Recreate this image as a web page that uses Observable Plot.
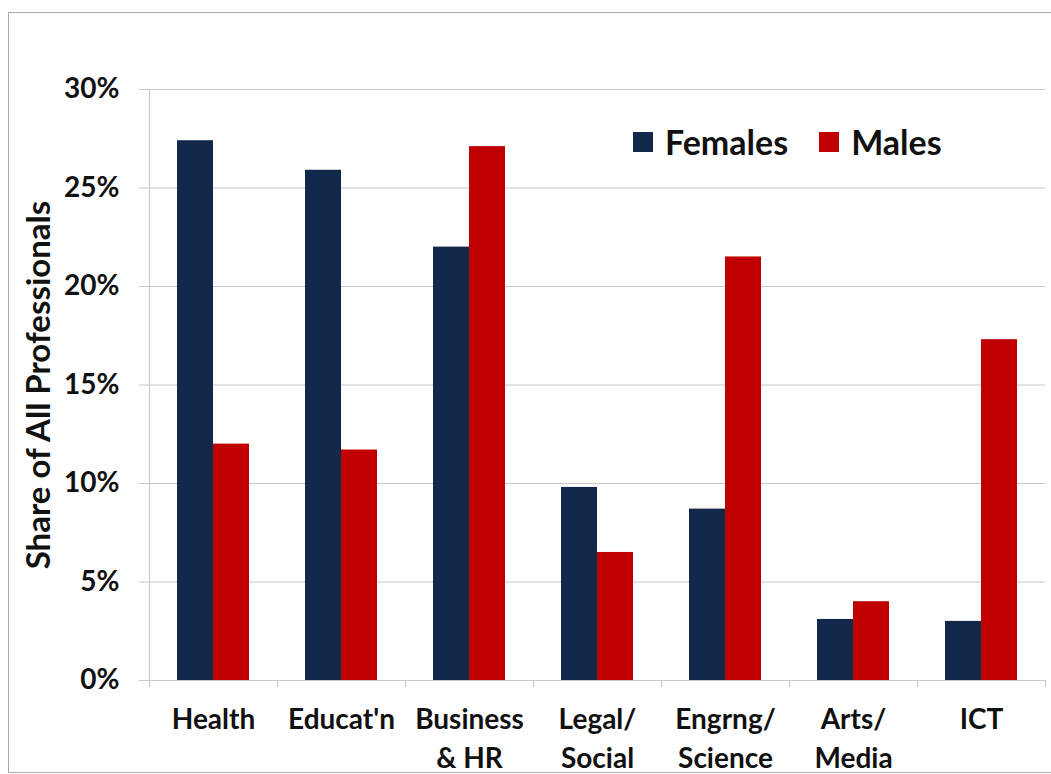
<!DOCTYPE html>
<html>
<head>
<meta charset="utf-8">
<script src="https://cdn.jsdelivr.net/npm/d3@7"></script>
<script src="https://cdn.jsdelivr.net/npm/@observablehq/plot@0.6"></script>
<style>
  html, body { margin: 0; padding: 0; background: #fff; }
  #wrap { position: relative; width: 1051px; height: 774px; overflow: hidden; font-family: Lato, "Open Sans", sans-serif; }
  #border { position: absolute; left: 8px; top: 12px; width: 1100px; height: 761px; border: 1.5px solid #a9a9a9; box-sizing: border-box; }
  #chart { position: absolute; left: 0; top: 0; }
  #legend { position: absolute; left: 633px; top: 121px; display: flex; align-items: center; font-weight: bold; font-size: 34px; color: #111; }
  .sw { width: 20px; height: 20px; display: inline-block; margin-right: 12px; }
  .item { display: flex; align-items: center; margin-right: 31px; }
</style>
</head>
<body>
<div id="wrap">
  <div id="border"></div>
  <div id="chart"></div>
  <div id="legend"></div>
</div>
<script>
const categories = ["Health", "Educat'n", "Business\n& HR", "Legal/\nSocial", "Engrng/\nScience", "Arts/\nMedia", "ICT"];
const series = ["Females", "Males"];
const females = [27.4, 25.9, 22.0, 9.8, 8.7, 3.1, 3.0];
const males = [12.0, 11.7, 27.1, 6.5, 21.5, 4.0, 17.3];
const yTicks = [0, 5, 10, 15, 20, 25, 30];
const colors = ["#12284a", "#c00000"];
const yLabel = "Share of All Professionals";

const data = categories.flatMap((c, i) => [
  {cat: c, sex: series[0], v: females[i]},
  {cat: c, sex: series[1], v: males[i]}
]);

const H = 774, mTop = 89, mBottom = 94;
const innerH = H - mTop - mBottom;

const chart = Plot.plot({
  width: 1051,
  height: H,
  marginLeft: 148,
  marginRight: 5,
  marginTop: mTop,
  marginBottom: mBottom,
  style: {fontFamily: "Lato, 'Open Sans', sans-serif", fontWeight: "bold", fontSize: "28px", color: "#111", background: "transparent", overflow: "visible"},
  fx: {domain: categories, padding: 0, label: null},
  x: {domain: series, paddingInner: 0, paddingOuter: 0.753, axis: null},
  y: {domain: [0, 30], label: null},
  color: {domain: series, range: colors},
  marks: [
    Plot.gridY(yTicks, {stroke: "#c8c8c8", strokeOpacity: 1, strokeWidth: 1.2}),
    Plot.axisY(yTicks, {tickSize: 10, tickPadding: 20, tickFormat: d => d + "%", stroke: "#c8c8c8", strokeOpacity: 1, label: null, fontSize: 28, fill: "#111"}),
    Plot.text([yLabel], {frameAnchor: "left", textAnchor: "middle", lineAnchor: "middle", rotate: -90, dx: -110, fontSize: 33, fontWeight: "bold", fill: "#111", facetAnchor: "left"}),
    Plot.axisFx({anchor: "bottom", tickSize: 0, tickPadding: 21, lineHeight: 1.39, fontSize: 28, fill: "#111", label: null}),
    Plot.frame({anchor: "left", stroke: "#c8c8c8", strokeWidth: 1.2, facetAnchor: "left"}),
    Plot.frame({anchor: "left", stroke: "#c8c8c8", strokeWidth: 1.2, insetTop: innerH, insetBottom: -6}),
    Plot.frame({anchor: "right", stroke: "#c8c8c8", strokeWidth: 1.2, insetTop: innerH, insetBottom: -6, facetAnchor: "right"}),
    Plot.ruleY([0], {stroke: "#c8c8c8", strokeWidth: 1.2}),
    Plot.barY(data, {fx: "cat", x: "sex", y: "v", fill: "sex"})
  ]
});
document.getElementById("chart").appendChild(chart);

const legend = document.getElementById("legend");
series.forEach((s, i) => {
  const it = document.createElement("div");
  it.className = "item";
  const sw = document.createElement("span");
  sw.className = "sw";
  sw.style.background = colors[i];
  it.appendChild(sw);
  it.appendChild(document.createTextNode(s));
  legend.appendChild(it);
});
</script>
</body>
</html>
